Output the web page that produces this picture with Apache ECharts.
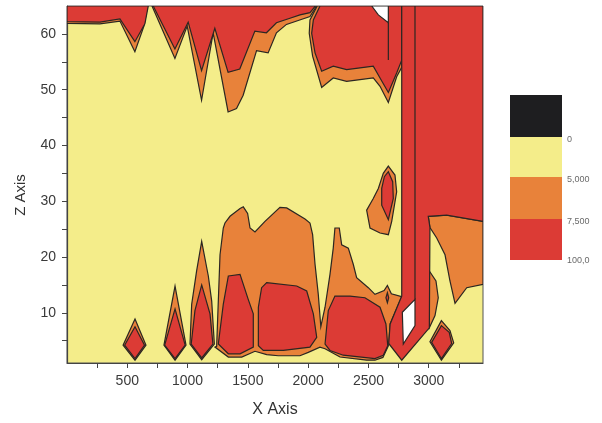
<!DOCTYPE html>
<html><head><meta charset="utf-8">
<script src="https://cdn.jsdelivr.net/npm/echarts@6/dist/echarts.min.js"></script>
<style>html,body{margin:0;padding:0;background:#fff}#c{width:602px;height:423px}</style>
</head><body><div id="c"></div>
<script>
// ---- axis ticks / labels ----
const xTicks = [250,500,750,1000,1250,1500,1750,2000,2250,2500,2750,3000,3250];
const xLabels = [500,1000,1500,2000,2500,3000];
const yTicks = [5,10,15,20,25,30,35,40,45,50,55,60];
const yLabels = [10,20,30,40,50,60];
const legendLabels = ['0','5,000','7,500','100,0'];

// ---- contour regions, [x, z] vertices ----
const orangeTopLeft = [[0,65],[0,61.9],[273,61.8],[439,62.3],[563,56.8],[638,61.4],[668,65]];
const redTopLeft = [[0,65],[0,62.2],[273,62.1],[439,62.7],[563,58.6],[646,61.8],[674,65]];
const orangeTopMid = [[705,65],[895,55.6],[997,61.4],[1116,48.1],[1212,60.2],[1336,46],[1406,46.6],[1461,49],[1572,57],[1668,56.6],[1737,60.2],[1820,61.7],[1930,62.5],[2015,63.1],[2070,65]];
const redTopMid = [[715,65],[895,57.3],[1005,62.1],[1116,53.4],[1226,61],[1336,53.1],[1433,53.7],[1558,60.5],[1654,60.2],[1737,62],[1849,62.8],[1932,63.4],[2015,63.8],[2060,65]];
const orangeTopRight = [[2075,65],[2015,62.5],[2009,60.1],[2037,56],[2112,50.4],[2208,52.1],[2319,51.5],[2430,51.8],[2540,52.1],[2596,50.6],[2665,47.7],[2734,52.3],[2776,54],[2776,65]];
const redTopRight = [[2098,65],[2043,62.5],[2029,60.1],[2057,56.6],[2112,53.3],[2208,54.2],[2319,53.6],[2430,53.9],[2540,54.2],[2596,52.1],[2665,49.5],[2734,53],[2776,55.3],[2776,65]];
const whiteTop = [[2527,65],[2582,63.4],[2665,62],[2665,65]];
const orangeMidBlob = [[2665,36.3],[2720,34.7],[2734,31.7],[2693,26.4],[2665,24],[2596,24.3],[2513,25.2],[2485,28.4],[2540,30.5],[2582,32.3],[2623,35]];
const redMidBlob = [[2665,35.3],[2701,33.5],[2706,30.5],[2665,26.7],[2610,29.3],[2610,32.3],[2632,34.4]];
const orangeLowBand = [[1241,4],[1269,20.4],[1296,25.2],[1310,26.1],[1352,27.3],[1435,28.7],[1462,29],[1498,27.8],[1518,25.2],[1559,24.5],[1642,26.4],[1766,28.9],[1822,28.8],[1974,26.8],[2015,26.1],[2037,24],[2057,18.7],[2084,13.3],[2105,7.5],[2140,11],[2181,16.9],[2208,21.6],[2222,25.2],[2258,25.2],[2278,22.2],[2333,21.6],[2374,18.7],[2402,16.3],[2499,14.5],[2554,13.3],[2630,14],[2657,14.9],[2690,13.4],[2776,12.9],[2680,8],[2668,4.2],[2620,2],[2554,1.5],[2485,1.5],[2264,2.07],[2140,3.55],[2098,3.85],[2001,2.9],[1932,2.3],[1752,2.3],[1656,2.5],[1559,3.1],[1449,2.07],[1338,2.07],[1227,3.85]];
const redLowA = [[1338,16.6],[1435,16.9],[1503,12.4],[1545,9.8],[1545,3.85],[1435,2.65],[1338,2.65],[1255,4.4],[1296,11.5]];
const redLowB = [[1656,15.4],[1905,14.8],[1988,13.9],[2043,9.8],[2071,5.6],[2015,3.85],[1794,3.25],[1628,3.25],[1587,4.1],[1587,11],[1614,14.5]];
const redLowC = [[2222,13],[2347,13],[2471,12.7],[2596,11],[2645,8],[2660,4.1],[2623,2.4],[2554,1.8],[2291,2.4],[2181,3.25],[2140,4.4],[2167,10.4]];
const redSmallPeak = [[2657,13.6],[2668,12.7],[2657,11.8],[2645,12.7]];
const orangeBlob1 = [[564,8.9],[655,4.2],[564,1.5],[465,4.2]];
const redBlob1 = [[564,7.5],[643,4.2],[564,1.8],[478,4.2]];
const orangeBlob2 = [[896,14.8],[987,4.2],[896,1.5],[804,4.2]];
const redBlob2 = [[896,10.7],[980,4.2],[896,1.8],[810,4.2]];
const orangeBlob3 = [[1117,22.8],[1172,16.6],[1200,12.1],[1222,4.4],[1117,1.6],[1020,4.4],[1034,11.5],[1075,17.5]];
const redBlob3 = [[1117,15],[1186,9.8],[1210,4.4],[1117,1.9],[1030,4.4],[1061,10.4]];
const redRightBlock = [[2776,65],[2776,13],[2680,8],[2668,4.5],[2776,1.5],[3005,7.3],[3010,25.3],[2996,27.3],[3149,27.5],[3450,26.4],[3450,65]];
const orangeRight = [[2996,27.3],[3149,27.5],[3450,26.4],[3450,15.1],[3315,14.5],[3218,11.7],[3176,15.7],[3135,20.4],[3066,23.4],[3010,25.3]];
const orangeSliver = [[3005,17.5],[3060,15.7],[3079,12.7],[3052,9.5],[3005,7.3]];
const orangeBlob4 = [[3105,8.6],[3176,6.8],[3207,4.6],[3105,1.5],[3010,4.8]];
const redBlob4 = [[3105,7.7],[3170,6.5],[3190,4.5],[3105,1.8],[3024,4.7]];
const whiteStrip = [[2781,10.1],[2886,12.4],[2886,7.7],[2789,4.4]];
const stripInnerLine = [[2886,65],[2886,12.4]];
const topInnerLine = [[2665,62],[2665,55.3]];

const orangeRegions = [orangeTopLeft, orangeTopMid, orangeTopRight, orangeMidBlob, orangeLowBand, orangeBlob1, orangeBlob2, orangeBlob3, orangeRight, orangeSliver, orangeBlob4];
const redRegions = [redTopLeft, redTopMid, redTopRight, redMidBlob, redLowA, redLowB, redLowC, redSmallPeak, redBlob1, redBlob2, redBlob3, redRightBlock, redBlob4];
const whiteRegions = [whiteTop, whiteStrip];
const contourLines = [stripInnerLine, topInnerLine];

const C_YELLOW = '#F4ED8A', C_ORANGE = '#E8823A', C_RED = '#DC3B35', C_BLACK = '#1E1E20', C_WHITE = '#FFFFFF';
const LINE = '#2b2622';
const FONT = 'Liberation Sans, Arial, sans-serif';

const shapes = [];
orangeRegions.forEach(p => shapes.push({pts: p, fill: C_ORANGE}));
redRegions.forEach(p => shapes.push({pts: p, fill: C_RED}));
whiteRegions.forEach(p => shapes.push({pts: p, fill: C_WHITE}));
contourLines.forEach(p => shapes.push({pts: p, line: true}));
const seriesData = shapes.map((s, i) => ({value: [s.pts[0][0], s.pts[0][1], i]}));

const chart = echarts.init(document.getElementById('c'), null, {renderer: 'canvas'});

const legendColors = [C_BLACK, C_YELLOW, C_ORANGE, C_RED];
const legendEdges = [95, 137, 177, 219, 260];
const graphic = [];
legendColors.forEach((c, i) => graphic.push({type: 'rect', shape: {x: 510, y: legendEdges[i], width: 52, height: legendEdges[i+1] - legendEdges[i]}, style: {fill: c}, silent: true}));
legendLabels.forEach((t, i) => graphic.push({type: 'text', x: 567, y: legendEdges[i+1] + (i === 3 ? 1 : 3), style: {text: t, font: '9px ' + FONT, fill: '#6a6a6a', verticalAlign: 'middle', align: 'left'}, silent: true}));
graphic.push({type: 'text', x: 21, y: 195, rotation: Math.PI / 2, style: {text: 'Z Axis', font: '15px ' + FONT, fill: '#333', align: 'center', verticalAlign: 'middle'}, silent: true});

chart.setOption({
  animation: false,
  grid: {left: 67, top: 6, width: 416, height: 360, show: true, backgroundColor: C_YELLOW, borderColor: '#555', borderWidth: 1},
  xAxis: {
    type: 'value', min: 0, max: 3450,
    axisLine: {show: true, onZero: false, lineStyle: {color: '#444', width: 1.2}},
    axisTick: {show: true, length: 5, customValues: xTicks, lineStyle: {color: '#444'}},
    axisLabel: {customValues: xLabels, formatter: v => String(v), fontSize: 14, color: '#3a3a3a', margin: 11, fontFamily: FONT},
    splitLine: {show: false},
    name: 'X Axis', nameLocation: 'middle', nameGap: 39,
    nameTextStyle: {fontSize: 16, color: '#333', fontFamily: FONT}
  },
  yAxis: {
    type: 'value', min: 1, max: 65,
    axisLine: {show: true, onZero: false, lineStyle: {color: '#444', width: 1.2}},
    axisTick: {show: true, length: 5, customValues: yTicks, lineStyle: {color: '#444'}},
    axisLabel: {customValues: yLabels, formatter: v => String(v), fontSize: 14, color: '#3a3a3a', margin: 11, fontFamily: FONT},
    splitLine: {show: false}
  },
  series: [{
    type: 'custom', coordinateSystem: 'cartesian2d', silent: true, clip: true,
    data: seriesData,
    renderItem: function (params, api) {
      const s = shapes[params.dataIndex];
      const pts = s.pts.map(p => api.coord(p));
      if (s.line) {
        return {type: 'polyline', shape: {points: pts}, style: {stroke: LINE, lineWidth: 1.2, fill: null}};
      }
      return {type: 'polygon', shape: {points: pts}, style: {fill: s.fill, stroke: LINE, lineWidth: 1.2, lineJoin: 'miter'}};
    }
  }],
  graphic: graphic
});
</script>
</body></html>
